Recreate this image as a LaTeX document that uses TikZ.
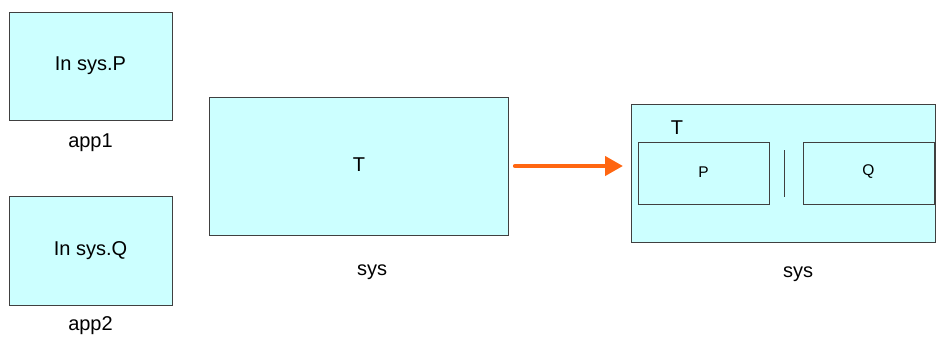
\documentclass[tikz,border=0pt]{standalone}
\usepackage{fontspec}
\setmainfont{Liberation Sans}
\usetikzlibrary{arrows.meta}
\definecolor{boxfill}{HTML}{CCFFFF}
\definecolor{boxline}{HTML}{404040}
\definecolor{arrowor}{HTML}{FF6611}
\begin{document}
\begin{tikzpicture}[x=1pt,y=-1pt,
  panel/.style={draw=boxline,fill=boxfill,line width=0.9pt},
  lbl/.style={font=\fontsize{20}{22}\selectfont,inner sep=0pt},
  small/.style={font=\fontsize{15.5}{17}\selectfont,inner sep=0pt}]
\useasboundingbox (0,0) rectangle (936,337);
% application boxes
\draw[panel] (9,12) rectangle (172,120);
\node[lbl] (app1txt) at (90.5,66) {In sys.P};
\node[lbl] (app1) at (90.5,143) {app1};
\draw[panel] (9,196) rectangle (172,305);
\node[lbl] (app2txt) at (90.5,251) {In sys.Q};
\node[lbl] (app2) at (90.5,326) {app2};
% system before split
\draw[panel] (209,97) rectangle (508,235);
\node[lbl] (t1) at (359,165) {T};
\node[lbl] (sys1) at (372,272) {sys};
% system after split
\draw[panel] (631,104) rectangle (935,242);
\node[lbl] (t2) at (677,128) {T};
\draw[panel] (638,142) rectangle (769,204);
\node[small] (p) at (703.5,172) {P};
\draw[panel] (803,142) rectangle (934,204);
\node[small] (q) at (868.5,172) {Q};
\draw[boxline,line width=0.9pt] (784,150) -- (784,197);
\node[lbl] (sys2) at (798,274) {sys};
% transformation arrow
\coordinate (a0) at (515,166);
\coordinate (a1) at (623,166);
\draw[arrowor,line width=4.2pt,line cap=round,-{Triangle[length=18pt,width=19pt]}] (a0) -- (a1);
\end{tikzpicture}
\end{document}
